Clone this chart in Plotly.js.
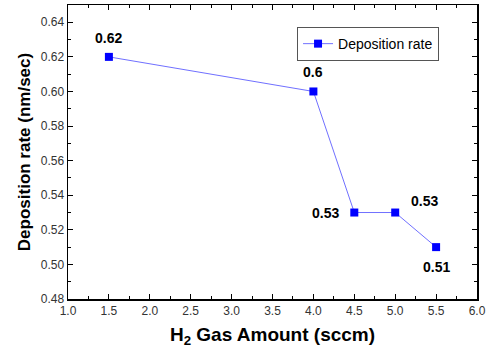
<!DOCTYPE html>
<html><head><meta charset="utf-8">
<script src="https://cdn.plot.ly/plotly-3.0.1.min.js"></script>
<style>body{margin:0;background:#fff}#c{width:486px;height:353px}</style>
</head><body><div id="c"></div>
<script>
const gasAmount = [1.5, 4.0, 4.5, 5.0, 5.5];
const depositionRate = [0.62, 0.60, 0.53, 0.53, 0.51];
const pointLabels = ['0.62', '0.6', '0.53', '0.53', '0.51'];
const seriesName = 'Deposition rate';

const labelOffsets = [[0, -19], [0, -19], [-29, 0], [29, -12], [0, 20]];
const annotations = gasAmount.map((x, i) => ({
  x: x, y: depositionRate[i], xref: 'x', yref: 'y', text: pointLabels[i],
  showarrow: false, xshift: labelOffsets[i][0], yshift: -labelOffsets[i][1],
  font: {family: 'Liberation Sans, Arial, sans-serif', size: 14, color: '#000', weight: 'bold'}
}));

const trace = {
  x: gasAmount, y: depositionRate, name: seriesName, type: 'scatter', mode: 'lines+markers',
  line: {color: '#7070ff', width: 1},
  marker: {symbol: 'square', size: 8, color: '#0000ff'}
};

const axisCommon = {
  showline: true, linecolor: '#000', linewidth: 1.5, mirror: 'ticks',
  ticks: 'inside', ticklen: 5, tickcolor: '#000', tickwidth: 1,
  showgrid: false, zeroline: false,
  tickfont: {family: 'Liberation Sans, Arial, sans-serif', size: 12, color: '#333'}
};

const layout = {
  width: 486, height: 353,
  margin: {l: 68, r: 9, t: 5, b: 54},
  paper_bgcolor: '#fff', plot_bgcolor: '#fff',
  showlegend: true,
  legend: {x: 0.56, y: 0.925, xanchor: 'left', yanchor: 'top', bordercolor: '#555', borderwidth: 1,
    font: {family: 'Liberation Sans, Arial, sans-serif', size: 14, color: '#000'}, bgcolor: '#fff',
    tracegroupgap: 0, itemwidth: 30},
  xaxis: Object.assign({}, axisCommon, {
    range: [1.0, 6.0], dtick: 0.5, tick0: 1.0, tickformat: '.1f',
    minor: {dtick: 0.25, ticks: 'inside', ticklen: 3, tickcolor: '#000'},
    title: {text: 'H<sub>2</sub> Gas Amount (sccm)', standoff: 11,
      font: {family: 'Liberation Sans, Arial, sans-serif', size: 19, color: '#000', weight: 'bold'}}
  }),
  yaxis: Object.assign({}, axisCommon, {
    range: [0.48, 0.65], dtick: 0.02, tick0: 0.48, tickformat: '.2f',
    minor: {dtick: 0.01, ticks: 'inside', ticklen: 3, tickcolor: '#000'},
    title: {text: 'Deposition rate (nm/sec)', standoff: 6,
      font: {family: 'Liberation Sans, Arial, sans-serif', size: 17, color: '#000', weight: 'bold'}}
  }),
  annotations: annotations
};

Plotly.newPlot('c', [trace], layout, {displayModeBar: false, staticPlot: true});
</script></body></html>
